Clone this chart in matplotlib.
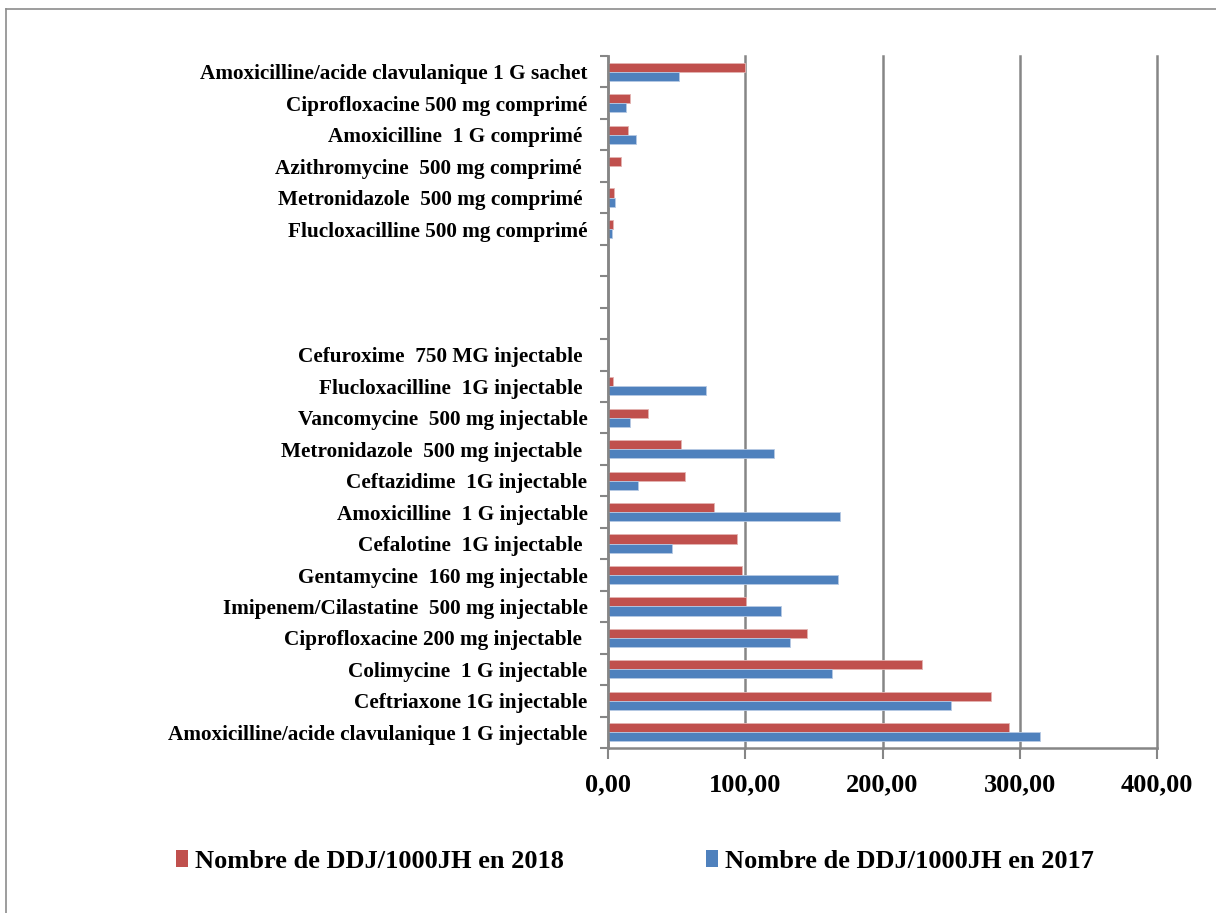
import matplotlib
matplotlib.use("Agg")
import matplotlib.pyplot as plt
from matplotlib.patches import Patch
from matplotlib.lines import Line2D

# Categories from bottom to top (blank slots are empty categories)
categories = [
    "Amoxicilline/acide clavulanique 1 G injectable",
    "Ceftriaxone 1G injectable",
    "Colimycine  1 G injectable",
    "Ciprofloxacine 200 mg injectable ",
    "Imipenem/Cilastatine  500 mg injectable",
    "Gentamycine  160 mg injectable",
    "Cefalotine  1G injectable ",
    "Amoxicilline  1 G injectable",
    "Ceftazidime  1G injectable",
    "Metronidazole  500 mg injectable ",
    "Vancomycine  500 mg injectable",
    "Flucloxacilline  1G injectable ",
    "Cefuroxime  750 MG injectable ",
    "",
    "",
    "",
    "Flucloxacilline 500 mg comprimé",
    "Metronidazole  500 mg comprimé ",
    "Azithromycine  500 mg comprimé ",
    "Amoxicilline  1 G comprimé ",
    "Ciprofloxacine 500 mg comprimé",
    "Amoxicilline/acide clavulanique 1 G sachet",
]
ddj_2018 = [292.3, 279.2, 229.1, 145.2, 100.7, 97.7, 93.6, 77.3, 56.2, 53.3,
            28.9, 3.2, 0.0, 0, 0, 0, 3.2, 4.2, 9.3, 14.4, 15.5, 100.0]
ddj_2017 = [315.1, 250.1, 163.2, 132.3, 125.7, 167.8, 46.7, 169.0, 21.5, 121.0,
            15.5, 71.0, 0.0, 0, 0, 0, 2.7, 4.9, 0.0, 19.9, 12.9, 51.6]
series_labels = ["Nombre de DDJ/1000JH en 2018", "Nombre de DDJ/1000JH en 2017"]
x_ticks = [0, 100, 200, 300, 400]
x_tick_labels = ["0,00", "100,00", "200,00", "300,00", "400,00"]

RED = "#C0504D"
BLUE = "#4F81BD"
GRAY = "#868686"
FONT = "Liberation Serif"

W, H = 1216, 913
fig = plt.figure(figsize=(W / 100, H / 100), dpi=100)
fig.patch.set_facecolor("white")

# outer frame (top and left visible)
fig.add_artist(Line2D([6 / W, 1.0], [1 - 9 / H, 1 - 9 / H], color="#8c8c8c", lw=1.2))
fig.add_artist(Line2D([6 / W, 6 / W], [0, 1 - 9 / H], color="#8c8c8c", lw=1.2))

left, right, top, bottom = 608.3, 1156.7, 56, 748
ax = fig.add_axes([left / W, 1 - bottom / H, (right - left) / W, (bottom - top) / H])

n = len(categories)
ypos = list(range(n))
bh = 0.29
ax.barh([y + bh / 2 for y in ypos], ddj_2018, height=bh, color=RED,
        edgecolor="#e3b3b2", linewidth=0.6, zorder=3)
ax.barh([y - bh / 2 for y in ypos], ddj_2017, height=bh, color=BLUE,
        edgecolor="#b6c9e3", linewidth=0.6, zorder=3)

ax.set_xlim(0, 400)
ax.set_ylim(-0.5, n - 0.5)

ax.set_xticks(x_ticks)
ax.set_xticklabels(x_tick_labels, fontsize=19, fontweight="bold", family=FONT)
ax.tick_params(axis="x", length=8, width=1.5, color=GRAY, pad=10)

ax.set_yticks(ypos)
ax.set_yticklabels(categories, fontsize=15.3, fontweight="bold", family=FONT)
ax.tick_params(axis="y", which="major", length=0, pad=15)
ax.set_yticks([y - 0.5 for y in range(n + 1)], minor=True)
ax.tick_params(axis="y", which="minor", length=6, width=1.5, color=GRAY)

ax.grid(axis="x", color=GRAY, linewidth=1.8, zorder=0)
for gl in ax.get_xgridlines():
    gl.set_clip_on(False)
ax.set_axisbelow(True)
for s in ["top", "right"]:
    ax.spines[s].set_visible(False)
for s in ["left", "bottom"]:
    ax.spines[s].set_color(GRAY)
    ax.spines[s].set_linewidth(1.8)
    ax.spines[s].set_zorder(4)

handles = [Patch(facecolor=RED), Patch(facecolor=BLUE)]
leg = fig.legend(handles, series_labels, loc="center", ncol=2,
                 bbox_to_anchor=(635 / W, 1 - 861 / H), frameon=False,
                 prop={"family": FONT, "weight": "bold", "size": 19},
                 handlelength=0.45, handleheight=0.6, handletextpad=0.25,
                 columnspacing=5.4)

fig.savefig("out.png", dpi=100)
